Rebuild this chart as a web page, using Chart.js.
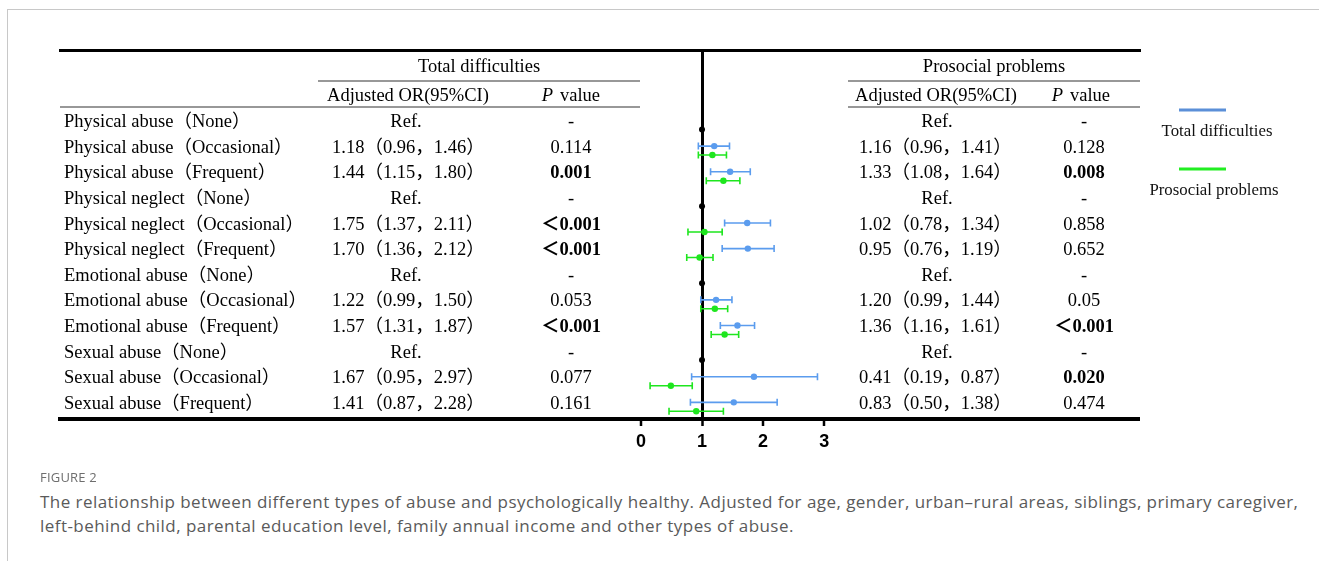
<!DOCTYPE html>
<html>
<head>
<meta charset="utf-8">
<script src="https://cdn.jsdelivr.net/npm/chart.js@4.4.1/dist/chart.umd.min.js"></script>
<style>
  html, body { margin: 0; padding: 0; background: #fff; }
  body { width: 1319px; height: 561px; position: relative; overflow: hidden; }
  #frame { position: absolute; left: 7px; top: 9px; right: -2px; bottom: -2px;
           border-top: 1px solid #c8c8c8; border-left: 1px solid #c8c8c8; }
  #plot { position: absolute; left: 0; top: 0; }
  #figlabel { position: absolute; left: 40px; top: 468px; font: 13px 'Open Sans', sans-serif;
              color: #6e6e6e; letter-spacing: 0.2px; }
  #figtext { position: absolute; left: 40px; top: 490px; width: 1275px; font: 17px/24px 'Open Sans', sans-serif;
             letter-spacing: 0.45px; color: #5a5a5a; }
</style>
</head>
<body>
<div id="frame"></div>
<canvas id="plot" width="1319" height="470"></canvas>
<div id="figlabel">FIGURE 2</div>
<div id="figtext">The relationship between different types of abuse and psychologically healthy. Adjusted for age, gender, urban–rural areas, siblings, primary caregiver, left-behind child, parental education level, family annual income and other types of abuse.</div>
<script>
(function() {
    'use strict';

    // table rows
    var rowLabels = [
        'Physical abuse（None）', 'Physical abuse（Occasional）', 'Physical abuse（Frequent）',
        'Physical neglect（None）', 'Physical neglect（Occasional）', 'Physical neglect（Frequent）',
        'Emotional abuse（None）', 'Emotional abuse（Occasional）', 'Emotional abuse（Frequent）',
        'Sexual abuse（None）', 'Sexual abuse（Occasional）', 'Sexual abuse（Frequent）'
    ];
    var tdText = ['Ref.', '1.18（0.96，1.46）', '1.44（1.15，1.80）', 'Ref.', '1.75（1.37，2.11）', '1.70（1.36，2.12）',
                  'Ref.', '1.22（0.99，1.50）', '1.57（1.31，1.87）', 'Ref.', '1.67（0.95，2.97）', '1.41（0.87，2.28）'];
    var tdP = ['-', '0.114', '0.001', '-', '＜0.001', '＜0.001', '-', '0.053', '＜0.001', '-', '0.077', '0.161'];
    var ppText = ['Ref.', '1.16（0.96，1.41）', '1.33（1.08，1.64）', 'Ref.', '1.02（0.78，1.34）', '0.95（0.76，1.19）',
                  'Ref.', '1.20（0.99，1.44）', '1.36（1.16，1.61）', 'Ref.', '0.41（0.19，0.87）', '0.83（0.50，1.38）'];
    var ppP = ['-', '0.128', '0.008', '-', '0.858', '0.652', '-', '0.05', '＜0.001', '-', '0.020', '0.474'];

    // plotted estimates, null = reference row
    var tdOR   = [null, 1.20, 1.46, null, 1.74, 1.75, null, 1.23, 1.58, null, 1.85, 1.52];
    var tdLow  = [null, 0.94, 1.14, null, 1.37, 1.33, null, 0.98, 1.30, null, 0.83, 0.81];
    var tdHigh = [null, 1.45, 1.79, null, 2.12, 2.18, null, 1.49, 1.86, null, 2.89, 2.23];
    var ppOR   = [null, 1.17, 1.35, null, 1.04, 0.96, null, 1.21, 1.37, null, 0.49, 0.905];
    var ppLow  = [null, 0.94, 1.07, null, 0.77, 0.75, null, 0.98, 1.15, null, 0.15, 0.46];
    var ppHigh = [null, 1.40, 1.62, null, 1.33, 1.18, null, 1.42, 1.60, null, 0.84, 1.35];
    var refRows = [0, 3, 6, 9];
    var refValue = 1;
    var xTicks = [0, 1, 2, 3];
    var seriesNames = ['Total difficulties', 'Prosocial problems'];

    var blue = '#5b9cee';
    var green = '#1ee61e';
    var serif = "'Liberation Serif', 'Times New Roman', 'Noto Sans CJK SC', serif";
    var fs = '18.5px ';
    var blueShift = 0.35; // blue series sits a little above the row
    var textShift = 0.28;

    function points(est, lo, hi, shift) {
        var out = [];
        for (var i = 0; i < est.length; i++) {
            if (est[i] === null) continue;
            out.push({x: est[i], y: i - shift, lo: lo[i], hi: hi[i]});
        }
        return out;
    }

    var errorBars = {
        id: 'errorBars',
        beforeDatasetsDraw: function(chart) {
            var ctx = chart.ctx, x = chart.scales.x, y = chart.scales.y;
            [0, 1].forEach(function(di) {
                var ds = chart.data.datasets[di];
                ctx.save();
                ctx.strokeStyle = ds.borderColor;
                ctx.lineWidth = 1.6;
                ds.data.forEach(function(p) {
                    var py = y.getPixelForValue(p.y);
                    var x1 = x.getPixelForValue(p.lo), x2 = x.getPixelForValue(p.hi);
                    ctx.beginPath();
                    ctx.moveTo(x1, py); ctx.lineTo(x2, py);
                    ctx.moveTo(x1, py - 3.5); ctx.lineTo(x1, py + 3.5);
                    ctx.moveTo(x2, py - 3.5); ctx.lineTo(x2, py + 3.5);
                    ctx.stroke();
                });
                ctx.restore();
            });
        }
    };

    function hline(ctx, x1, x2, yy, w) {
        ctx.beginPath();
        ctx.lineWidth = w;
        ctx.moveTo(x1, yy); ctx.lineTo(x2, yy);
        ctx.stroke();
    }

    function isBold(p) {
        if (p === '-') return false;
        if (p.charAt(0) === '＜') return true;
        return parseFloat(p) < 0.05;
    }

    function drawP(ctx, p, cx, yy) {
        ctx.font = (isBold(p) ? 'bold ' : '') + fs + serif;
        ctx.fillText(p, cx, yy);
    }

    var tablePlugin = {
        id: 'tableText',
        afterDraw: function(chart) {
            var ctx = chart.ctx, y = chart.scales.y, area = chart.chartArea;
            var top = area.top;
            ctx.save();
            ctx.fillStyle = '#000';
            ctx.strokeStyle = '#000';
            ctx.textBaseline = 'middle';

            // column headers
            ctx.font = fs + serif;
            ctx.textAlign = 'center';
            ctx.fillText('Total difficulties', 479, top + 17);
            ctx.fillText('Prosocial problems', 994, top + 17);
            ctx.fillText('Adjusted OR(95%CI)', 408, top + 46);
            ctx.fillText('Adjusted OR(95%CI)', 936, top + 46);
            [571, 1081].forEach(function(cx) {
                ctx.font = 'italic ' + fs + serif;
                ctx.textAlign = 'right';
                ctx.fillText('P', cx - 18, top + 46);
                ctx.font = fs + serif;
                ctx.textAlign = 'left';
                ctx.fillText('value', cx - 11, top + 46);
            });
            ctx.strokeStyle = '#333';
            hline(ctx, 318, 640, top + 31, 1.2);
            hline(ctx, 848, 1140, top + 31, 1.2);
            hline(ctx, 60, 640, top + 57, 1.2);
            hline(ctx, 848, 1140, top + 57, 1.2);

            // rows
            for (var i = 0; i < rowLabels.length; i++) {
                var yy = y.getPixelForValue(i - textShift);
                ctx.font = fs + serif;
                ctx.textAlign = 'left';
                ctx.fillText(rowLabels[i], 64, yy);
                if (tdText[i] === 'Ref.') {
                    ctx.textAlign = 'center';
                    ctx.fillText('Ref.', 406, yy);
                    ctx.fillText('Ref.', 937, yy);
                } else {
                    ctx.fillText(tdText[i], 332, yy);
                    ctx.fillText(ppText[i], 859, yy);
                }
                ctx.textAlign = 'center';
                drawP(ctx, tdP[i], 571, yy);
                drawP(ctx, ppP[i], 1084, yy);
            }

            // legend
            var lineColors = ['#5b8fd8', '#22ee22'];
            var legendY = [110, 169];
            var legendX = [1217, 1214];
            ctx.font = '16.8px ' + serif;
            ctx.textAlign = 'center';
            for (var k = 0; k < seriesNames.length; k++) {
                ctx.strokeStyle = lineColors[k];
                hline(ctx, 1179, 1226, legendY[k], 3);
                ctx.fillStyle = '#111';
                ctx.fillText(seriesNames[k], legendX[k], legendY[k] + 22);
            }
            ctx.restore();
        }
    };

    var ctx = document.getElementById('plot').getContext('2d');
    new Chart(ctx, {
        type: 'scatter',
        data: {
            datasets: [{
                label: seriesNames[0],
                data: points(tdOR, tdLow, tdHigh, blueShift),
                backgroundColor: blue,
                borderColor: blue,
                pointRadius: 3.2,
                pointBorderWidth: 0
            }, {
                label: seriesNames[1],
                data: points(ppOR, ppLow, ppHigh, 0),
                backgroundColor: green,
                borderColor: green,
                pointRadius: 3.2,
                pointBorderWidth: 0
            }, {
                label: 'Ref.',
                data: refRows.map(function(r) { return {x: refValue, y: r}; }),
                backgroundColor: '#000',
                borderColor: '#000',
                pointRadius: 3,
                pointBorderWidth: 0
            }]
        },
        options: {
            responsive: false,
            animation: false,
            devicePixelRatio: 1,
            layout: { padding: { left: 60, right: 179, top: 50, bottom: 0 } },
            plugins: { legend: { display: false }, tooltip: { enabled: false } },
            scales: {
                x: {
                    type: 'linear',
                    position: 'bottom',
                    min: -9.51,
                    max: 8.17,
                    afterBuildTicks: function(s) { s.ticks = xTicks.map(function(v) { return {value: v}; }); },
                    afterFit: function(s) { s.height = 51; },
                    border: { display: true, color: '#000', width: 4 },
                    grid: {
                        color: function(c) { return c.tick && c.tick.value === refValue ? '#000' : 'rgba(0,0,0,0)'; },
                        lineWidth: function(c) { return c.tick && c.tick.value === refValue ? 3 : 0; },
                        tickColor: '#000',
                        tickLength: 7,
                        tickWidth: 2.5
                    },
                    ticks: {
                        color: '#000',
                        padding: 5,
                        font: { family: "'Liberation Sans', Arial, sans-serif", size: 18, weight: 'bold' }
                    }
                },
                x2: {
                    type: 'linear',
                    position: 'top',
                    min: -9.51,
                    max: 8.17,
                    afterFit: function(s) { s.height = 0; },
                    border: { display: true, color: '#000', width: 3 },
                    grid: { drawOnChartArea: false, drawTicks: false },
                    ticks: { display: false }
                },
                y: {
                    type: 'linear',
                    display: false,
                    reverse: true,
                    min: -3.1,
                    max: 11.3
                }
            }
        },
        plugins: [errorBars, tablePlugin]
    });
})();
</script>
</body>
</html>
